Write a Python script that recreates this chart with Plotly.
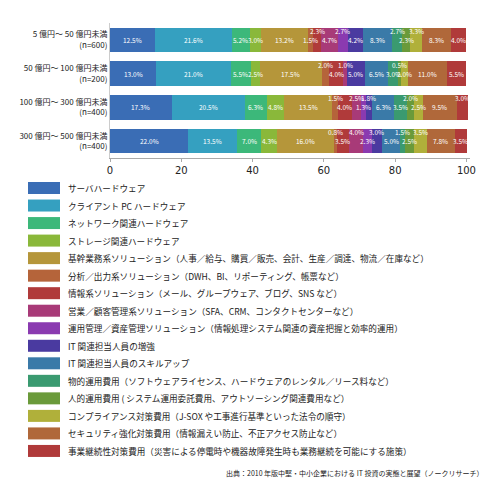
import plotly.graph_objects as go

categories = ["5 億円～ 50 億円未満<br>(n=600)", "50 億円～ 100 億円未満<br>(n=200)",
              "100 億円～ 300 億円未満<br>(n=400)", "300 億円～ 500 億円未満<br>(n=400)"]
series_names = [
    "サーバハードウェア", "クライアント PC ハードウェア", "ネットワーク関連ハードウェア", "ストレージ関連ハードウェア",
    "基幹業務系ソリューション（人事／給与、購買／販売、会計、生産／調達、物流／在庫など）",
    "分析／出力系ソリューション（DWH、BI、リポーティング、帳票など）",
    "情報系ソリューション（メール、グループウェア、ブログ、SNS など）",
    "営業／顧客管理系ソリューション（SFA、CRM、コンタクトセンターなど）",
    "運用管理／資産管理ソリューション（情報処理システム関連の資産把握と効率的運用）",
    "IT 関連担当人員の増強", "IT 関連担当人員のスキルアップ",
    "物的運用費用（ソフトウェアライセンス、ハードウェアのレンタル／リース料など）",
    "人的運用費用 ( システム運用委託費用、アウトソーシング関連費用など）",
    "コンプライアンス対策費用（J-SOX や工事進行基準といった法令の順守）",
    "セキュリティ強化対策費用（情報漏えい防止、不正アクセス防止など）",
    "事業継続性対策費用（災害による停電時や機器故障発生時も業務継続を可能にする施策）",
]
values_r1 = [12.5, 21.6, 5.2, 3.0, 13.2, 1.5, 2.3, 4.7, 2.7, 4.2, 8.3, 2.7, 2.3, 3.3, 8.3, 4.0]
values_r2 = [13.0, 21.0, 5.5, 2.5, 17.5, 2.0, 4.0, 1.0, 0.0, 5.0, 6.5, 3.0, 0.5, 2.0, 11.0, 5.5]
values_r3 = [17.3, 20.5, 6.3, 4.8, 13.5, 1.5, 4.0, 2.5, 1.3, 1.8, 6.3, 3.5, 2.0, 2.5, 9.5, 3.0]
values_r4 = [22.0, 13.5, 7.0, 4.3, 16.0, 0.8, 3.5, 4.0, 2.3, 3.0, 5.0, 1.5, 2.5, 3.5, 7.8, 3.5]
x_ticks = [0, 20, 40, 60, 80, 100]
source = "出典：2010 年版中堅・中小企業における IT 投資の実態と展望（ノークリサーチ）"

colors = ["#3a6db5", "#35a0c0", "#3cb87a", "#8ab83a", "#b5963a", "#b5643a", "#b03a3a", "#a83a78",
          "#8a3ab0", "#4a3aa0", "#3a7aa8", "#3a9a70", "#6a9a3a", "#b0b03a", "#b0683a", "#b03a3a"]
# label placement style: which (row, series) labels sit high in the bar
raised = {0: {6, 8, 11, 13}, 1: {5, 7, 12}, 2: {5, 7, 9, 12, 15}, 3: {5, 7, 9, 11, 13}}

rows = [values_r1, values_r2, values_r3, values_r4]
FONT = "Noto Sans CJK JP"
fig = go.Figure()
for j, name in enumerate(series_names):
    fig.add_trace(go.Bar(
        y=categories, x=[r[j] for r in rows], orientation="h", name=name,
        marker=dict(color=colors[j], line=dict(width=0)), showlegend=False, hoverinfo="x+name"))

anns = []
for i, r in enumerate(rows):
    cum = 0
    for j, v in enumerate(r):
        if v > 0:
            up = j in raised.get(i, set())
            anns.append(dict(x=cum + v / 2, y=categories[i], xref="x", yref="y", text=f"{v:.1f}%",
                             showarrow=False, yshift=9 if up else 0,
                             font=dict(color="white", size=6.5, family=FONT)))
        cum += v

top = 180
step = 17.53
plot_h = 480 - 15 - 330
shapes = []
def py(p):
    return (480 - 330 - p) / plot_h
for j, name in enumerate(series_names):
    yc = top + j * step
    shapes.append(dict(type="rect", xref="paper", yref="paper",
                       x0=(20 - 102) / 360, x1=(52 - 102) / 360,
                       y0=py(yc + 6), y1=py(yc - 6), fillcolor=colors[j], line=dict(width=0)))
    anns.append(dict(xref="paper", yref="paper", x=(58 - 102) / 360, y=py(yc), text=name,
                     showarrow=False, xanchor="left", yanchor="middle",
                     font=dict(size=8.6, color="#222", family=FONT)))
anns.append(dict(xref="paper", yref="paper", x=(478 - 102) / 360, y=py(465), text=source,
                 showarrow=False, xanchor="right", yanchor="middle",
                 font=dict(size=7, color="#222", family=FONT)))

fig.update_layout(
    barmode="stack", width=490, height=480,
    margin=dict(l=102, r=28, t=15, b=330),
    plot_bgcolor="white", paper_bgcolor="white",
    bargap=0.28, shapes=shapes, annotations=anns,
    font=dict(family=FONT, size=8, color="#222"),
    xaxis=dict(range=[0, 101], tickvals=x_ticks, showgrid=False, zeroline=False,
               showline=True, linecolor="#aaa", ticks="outside", ticklen=3, tickcolor="#aaa",
               tickfont=dict(size=10, family="DejaVu Sans")),
    yaxis=dict(autorange="reversed", showline=True, linecolor="#ccc", ticks="",
               tickfont=dict(size=8, family=FONT)),
)
fig.write_html("out.html")
